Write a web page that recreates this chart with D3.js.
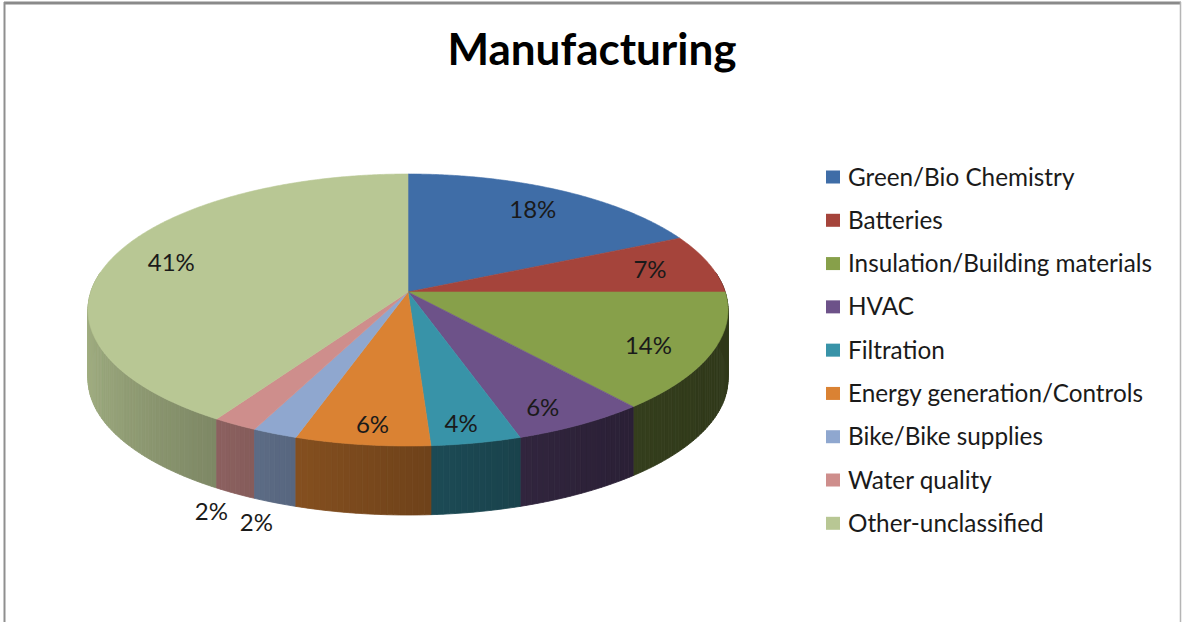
<!DOCTYPE html>
<html>
<head>
<meta charset="utf-8">
<script src="https://cdn.jsdelivr.net/npm/d3@7"></script>
<style>
  html, body { margin: 0; padding: 0; background: #fff; }
  svg { display: block; }
</style>
</head>
<body>
<svg id="chart" width="1183" height="622"></svg>
<script>
// Manufacturing sectors, share of companies (%)
const categories = [
  "Green/Bio Chemistry",
  "Batteries",
  "Insulation/Building materials",
  "HVAC",
  "Filtration",
  "Energy generation/Controls",
  "Bike/Bike supplies",
  "Water quality",
  "Other-unclassified"
];
const shares = [18, 7, 14, 6, 4, 6, 2, 2, 41];
const colors = ["#3F6DA7", "#A5443B", "#87A04A", "#6D5289", "#3893A8",
                "#DA8233", "#8FA7CF", "#CE8E8C", "#B8C794"];
const chartTitle = "Manufacturing";

const svg = d3.select("#chart");
const W = 1183, H = 622;

// chart frame
svg.append("rect").attr("x", 0).attr("y", 0).attr("width", W).attr("height", H).attr("fill", "#fff");
svg.append("line").attr("x1", 4).attr("x2", 1181).attr("y1", 3).attr("y2", 3)
  .attr("stroke", "#8a8a8a").attr("stroke-width", 3);
svg.append("line").attr("x1", 4.5).attr("x2", 4.5).attr("y1", 2).attr("y2", H)
  .attr("stroke", "#8f8f8f").attr("stroke-width", 2);
svg.append("line").attr("x1", 1180.5).attr("x2", 1180.5).attr("y1", 2).attr("y2", H)
  .attr("stroke", "#b5b5b5").attr("stroke-width", 1.5);

// title
svg.append("text")
  .attr("x", 592).attr("y", 65)
  .attr("text-anchor", "middle")
  .attr("font-family", "Lato, 'Open Sans', sans-serif")
  .attr("font-weight", "bold")
  .attr("font-size", 44)
  .attr("fill", "#000")
  .text(chartTitle);

// ---- 3D pie geometry (perspective view of a tilted disc) ----
const cx = 408;          // horizontal centre
const farY = 174;        // back edge of the top face
const apexY = 292;       // projected centre of the disc
const nearY = 446;       // front edge of the top face
const halfWidth = 320;   // widest half-extent of the top face
const depth = 69;        // thickness of the disc

// projective map y = (apexY + b*v) / (1 + k*v) through the three reference rows
const k = (2 * apexY - farY - nearY) / (nearY - farY);
const b = nearY * (1 + k) - apexY;
// widest point is where cos(phi) = k; scale horizontal term so it reaches halfWidth
const a = halfWidth * Math.sqrt(1 - k * k);

function project(phi, t) {
  const u = t * Math.sin(phi), v = -t * Math.cos(phi);
  const den = 1 + k * v;
  return [cx + a * u / den, (apexY + b * v) / den, v];
}

const pie = d3.pie().sort(null).value(d => d).startAngle(0).endAngle(2 * Math.PI);
const arcs = pie(shares).map((d, i) => ({ ...d, i }));

const line = d3.line().curve(d3.curveLinear);
const step = Math.PI / 180;

// light from the front-left: side walls turn darker toward the right
function shade(base, phi) {
  const c = d3.rgb(base);
  const s = Math.pow((1 + Math.cos(phi - 285 * Math.PI / 180)) / 2, 1.2);
  const f = 0.36 + 0.54 * s;
  return d3.rgb(c.r * f, c.g * f, c.b * f).formatHex();
}

// side wall facets (front half only), painted back to front
const facets = [];
const lo = Math.PI / 2 - 0.15, hi = 3 * Math.PI / 2 + 0.15;
arcs.forEach(d => {
  const s0 = Math.max(d.startAngle, lo), s1 = Math.min(d.endAngle, hi);
  if (s1 <= s0) return;
  const n = Math.max(1, Math.ceil((s1 - s0) / step));
  for (let j = 0; j < n; j++) {
    const p0 = s0 + (s1 - s0) * j / n, p1 = s0 + (s1 - s0) * (j + 1) / n;
    const t0 = project(p0, 1), t1 = project(p1, 1);
    facets.push({
      pts: [[t0[0], t0[1]], [t1[0], t1[1]], [t1[0], t1[1] + depth], [t0[0], t0[1] + depth]],
      z: (t0[2] + t1[2]) / 2,
      fill: shade(colors[d.i], (p0 + p1) / 2)
    });
  }
});
facets.sort((p, q) => p.z - q.z);

svg.append("g").attr("class", "sides")
  .selectAll("path").data(facets).join("path")
  .attr("d", f => line(f.pts) + "Z")
  .attr("fill", f => f.fill)
  .attr("stroke", f => f.fill)
  .attr("stroke-width", 0.8)
  .attr("stroke-linejoin", "round");

// top faces
function topPath(d) {
  const pts = [[cx, apexY]];
  const n = Math.max(2, Math.ceil((d.endAngle - d.startAngle) / (0.5 * step)));
  for (let j = 0; j <= n; j++) {
    const p = project(d.startAngle + (d.endAngle - d.startAngle) * j / n, 1);
    pts.push([p[0], p[1]]);
  }
  return line(pts) + "Z";
}

svg.append("g").attr("class", "tops")
  .selectAll("path").data(arcs).join("path")
  .attr("d", topPath)
  .attr("fill", d => colors[d.i])
  .attr("stroke", d => colors[d.i])
  .attr("stroke-width", 0.6);

// percentage labels: inside the slice, or below the wall for the thin ones
const fmt = d => d3.format(".0%")(d.value / 100);
function labelPos(d) {
  const mid = (d.startAngle + d.endAngle) / 2;
  if (d.value < 3) {
    const p = project(mid, 1.12);
    return [p[0], p[1] + depth];
  }
  const p = project(mid, 0.8);
  return [p[0], p[1] + 18 * Math.max(0, p[2])];
}

svg.append("g").attr("class", "labels")
  .selectAll("text").data(arcs).join("text")
  .attr("x", d => labelPos(d)[0])
  .attr("y", d => labelPos(d)[1])
  .attr("dy", "0.35em")
  .attr("text-anchor", "middle")
  .attr("font-family", "Lato, 'Open Sans', sans-serif")
  .attr("font-size", 24)
  .attr("fill", "#1a1a1a")
  .text(fmt);

// legend
const legendY = d3.scalePoint().domain(categories).range([177, 523.3]);
const legend = svg.append("g").attr("class", "legend")
  .selectAll("g").data(categories).join("g")
  .attr("transform", d => `translate(826,${legendY(d)})`);
legend.append("rect")
  .attr("x", 0).attr("y", -6.5).attr("width", 14).attr("height", 13)
  .attr("fill", (d, i) => colors[i]);
legend.append("text")
  .attr("x", 22).attr("dy", "0.35em")
  .attr("font-family", "Lato, 'Open Sans', sans-serif")
  .attr("font-size", 24.3)
  .attr("fill", "#1a1a1a")
  .text(d => d);
</script>
</body>
</html>
